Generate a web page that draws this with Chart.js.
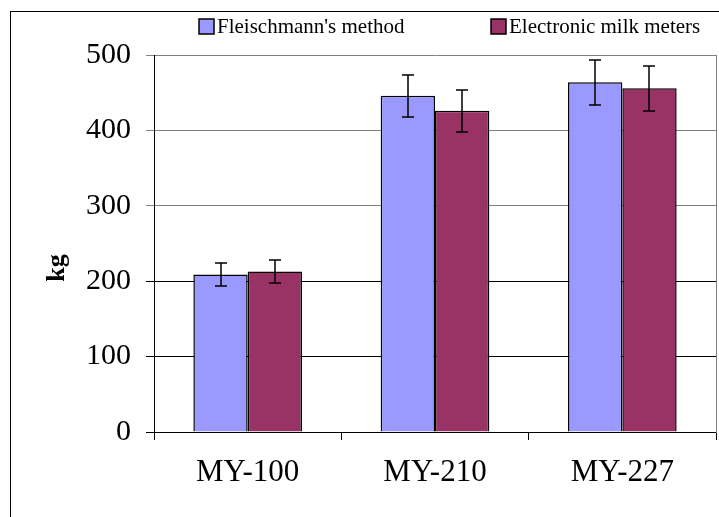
<!DOCTYPE html>
<html lang="en">
  <head>
    <meta charset="UTF-8" />
    <meta name="viewport" content="width=device-width, initial-scale=1.0" />
    <title>Milk yield: Fleischmann's method vs electronic milk meters</title>
    <style>
      * {
        margin: 0;
        padding: 0;
        box-sizing: border-box;
      }
      body {
        background: #fff;
      }
      .chartBox {
        width: 719px;
        height: 517px;
      }
    </style>
  </head>
  <body>
    <div class="chartBox">
      <canvas id="myChart"></canvas>
    </div>

    <script src="https://cdn.jsdelivr.net/npm/chart.js"></script>
    <script>
      const categories = ["MY-100", "MY-210", "MY-227"];
      const seriesNames = ["Fleischmann's method", "Electronic milk meters"];
      const fleischmann = [209, 446, 464];
      const electronic = [213, 426, 456];
      const fleischmannErr = [15, 28, 30];
      const electronicErr = [15, 28, 30];
      const yTicks = [0, 100, 200, 300, 400, 500];
      const yTitle = "kg";

      const serif = "'Liberation Serif', 'Times New Roman', serif";

      // white page + thin black frame around the whole chart
      const frame = {
        id: "frame",
        beforeDraw(chart) {
          const { ctx, width, height } = chart;
          ctx.save();
          ctx.fillStyle = "#fff";
          ctx.fillRect(0, 0, width, height);
          ctx.strokeStyle = "#000";
          ctx.lineWidth = 1;
          ctx.strokeRect(10.5, 11.5, width + 20, height + 20);
          ctx.restore();
        },
      };

      // +/- error bars on top of each bar
      const errorBars = {
        id: "errorBars",
        afterDatasetsDraw(chart) {
          const { ctx, scales: { y } } = chart;
          ctx.save();
          ctx.strokeStyle = "#000";
          ctx.lineWidth = 1.5;
          chart.data.datasets.forEach((ds, i) => {
            const meta = chart.getDatasetMeta(i);
            meta.data.forEach((bar, j) => {
              const v = ds.data[j];
              const e = ds.errors[j];
              const top = Math.round(y.getPixelForValue(v + e));
              const bot = Math.round(y.getPixelForValue(v - e));
              const x = Math.round(bar.x);
              ctx.beginPath();
              ctx.moveTo(x, top);
              ctx.lineTo(x, bot);
              ctx.moveTo(x - 6, top);
              ctx.lineTo(x + 6, top);
              ctx.moveTo(x - 6, bot);
              ctx.lineTo(x + 6, bot);
              ctx.stroke();
            });
          });
          ctx.restore();
        },
      };

      // legend in the top band (boxes tight against their text) + y title
      const labels = {
        id: "labels",
        afterDraw(chart) {
          const { ctx } = chart;
          const xs = [199, 491];
          ctx.save();
          ctx.font = "21px " + serif;
          ctx.textBaseline = "middle";
          chart.data.datasets.forEach((ds, i) => {
            ctx.fillStyle = ds.backgroundColor;
            ctx.fillRect(xs[i], 19, 15, 15);
            ctx.strokeStyle = "#000";
            ctx.lineWidth = 1.5;
            ctx.strokeRect(xs[i], 19, 15, 15);
            ctx.fillStyle = "#000";
            ctx.fillText(ds.label, xs[i] + 18, 27);
          });

          ctx.translate(57, 268);
          ctx.rotate(-Math.PI / 2);
          ctx.font = "bold 26px " + serif;
          ctx.textAlign = "center";
          ctx.fillText(yTitle, 0, 0);
          ctx.restore();
        },
      };

      const gridColor = (c) =>
        c.tick && c.tick.value <= 200 ? "#000" : "#808080";

      const data = {
        labels: categories,
        datasets: [
          {
            label: seriesNames[0],
            data: fleischmann,
            errors: fleischmannErr,
            backgroundColor: "#9999FF",
            borderColor: "#000",
            borderWidth: 1.5,
          },
          {
            label: seriesNames[1],
            data: electronic,
            errors: electronicErr,
            backgroundColor: "#993366",
            borderColor: "#000",
            borderWidth: 1.5,
          },
        ],
      };

      const config = {
        type: "bar",
        data: data,
        options: {
          responsive: true,
          maintainAspectRatio: false,
          animation: false,
          categoryPercentage: 0.58,
          barPercentage: 1,
          layout: { padding: { top: 55, left: 10, right: 0, bottom: 0 } },
          plugins: {
            legend: { display: false },
            tooltip: { enabled: false },
          },
          scales: {
            x: {
              grid: {
                offset: true,
                drawOnChartArea: false,
                tickLength: 8,
                color: "#000",
              },
              border: { color: "#000" },
              ticks: {
                color: "#000",
                padding: 14,
                font: { family: serif, size: 31 },
              },
              afterFit(scale) {
                scale.height = 85;
              },
            },
            y: {
              min: 0,
              max: 500,
              afterBuildTicks(scale) {
                scale.ticks = yTicks.map((v) => ({ value: v }));
              },
              grid: {
                color: gridColor,
                tickColor: gridColor,
                tickLength: 8,
              },
              border: { color: "#000" },
              ticks: {
                color: "#000",
                padding: 15,
                font: { family: serif, size: 30 },
              },
              afterFit(scale) {
                scale.width = 144;
              },
            },
            y2: {
              position: "right",
              grid: { display: false, drawTicks: false },
              border: { color: "#808080" },
              ticks: { display: false },
              afterFit(scale) {
                scale.width = 3;
              },
            },
          },
        },
        plugins: [frame, errorBars, labels],
      };

      const myChart = new Chart(document.getElementById("myChart"), config);
    </script>
  </body>
</html>
